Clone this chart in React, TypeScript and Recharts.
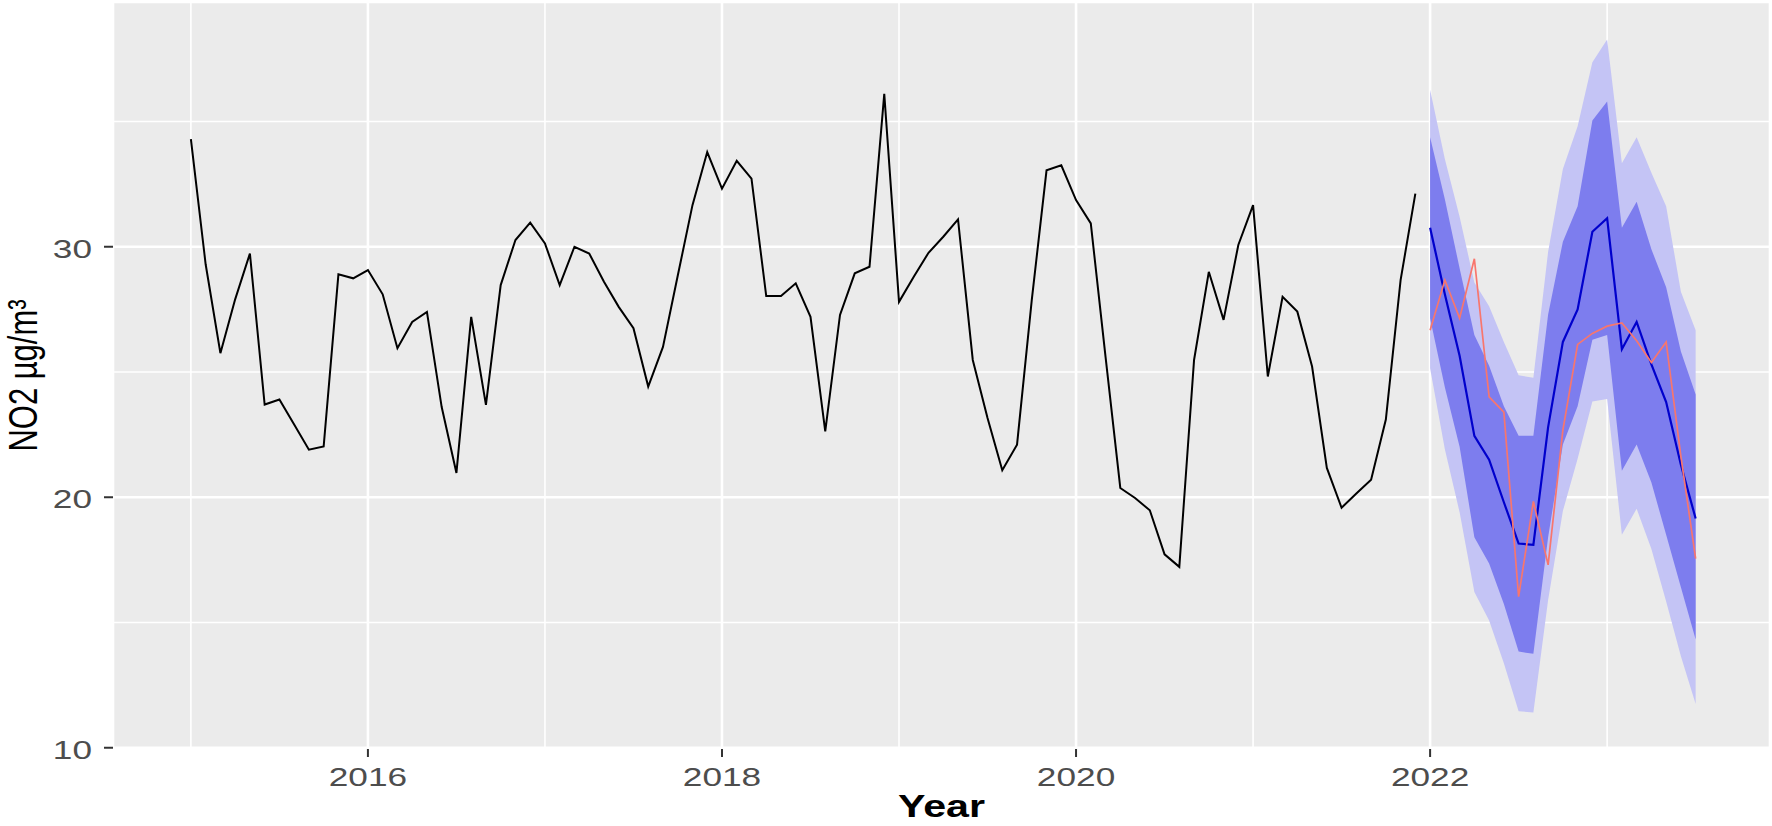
import React from 'react';
import {
  ComposedChart,
  Line,
  Area,
  XAxis,
  YAxis,
  CartesianGrid,
  Label,
} from 'recharts';

// monthly NO2, Jan 2015 - Dec 2021
const histStart = 2015;
const histValues = [
  34.3, 29.3, 25.75, 27.9, 29.73, 23.7, 23.9, 22.9, 21.9, 22.03, 28.9, 28.74,
  29.07, 28.1, 25.95, 27.0, 27.4, 23.6, 20.97, 27.2, 23.69, 28.47, 30.27, 30.96,
  30.13, 28.47, 30.0, 29.73, 28.6, 27.6, 26.75, 24.42, 26.0, 28.84, 31.66, 33.78,
  32.32, 33.43, 32.72, 28.03, 28.03, 28.54, 27.2, 22.63, 27.28, 28.94, 29.2, 36.1,
  27.8, 28.8, 29.76, 30.4, 31.09, 25.48, 23.16, 21.08, 22.1, 27.88, 33.05, 33.25,
  31.86, 30.93, 25.6, 20.37, 19.97, 19.48, 17.72, 17.22, 25.48, 29.0, 27.08, 30.07,
  31.66, 24.82, 28.0, 27.41, 25.22, 21.17, 19.58, 20.15, 20.7, 23.1, 28.67, 32.12,
];

// forecast, Jan 2022 - Jul 2023
const fcStart = 2022;
const fcMean = [30.76, 28.1, 25.65, 22.45, 21.5, 19.8, 18.15, 18.1, 22.8, 26.2, 27.5, 30.6, 31.14, 25.91, 27.0, 25.3, 23.8, 21.3, 19.15];
const fcHi80 = [34.37, 31.9, 29.14, 26.48, 25.25, 23.63, 22.45, 22.45, 27.3, 30.2, 31.62, 35.04, 35.8, 30.76, 31.8, 29.9, 28.38, 25.82, 24.1];
const fcLo80 = [27.15, 24.39, 22.02, 18.4, 17.36, 15.74, 13.84, 13.75, 18.4, 22.11, 23.63, 26.29, 26.48, 21.06, 22.11, 20.59, 18.5, 16.41, 14.32];
const fcHi95 = [36.27, 33.5, 31.2, 28.57, 27.62, 26.2, 24.87, 24.77, 29.8, 33.1, 34.81, 37.36, 38.27, 33.33, 34.37, 32.95, 31.62, 28.2, 26.67];
const fcLo95 = [25.15, 21.92, 19.4, 16.22, 15.08, 13.37, 11.46, 11.41, 15.9, 19.45, 21.54, 23.82, 23.92, 18.5, 19.54, 17.93, 15.84, 13.65, 11.75];
const actual = [26.67, 28.67, 27.15, 29.52, 24.01, 23.4, 16.03, 19.83, 17.3, 22.68, 26.1, 26.54, 26.83, 26.96, 26.25, 25.38, 26.2, 21.63, 17.55];

const xTicks = [2016, 2018, 2020, 2022];
const xMinor = [2015, 2017, 2019, 2021, 2023];
const yTicks = [10, 20, 30];
const yMinor = [15, 25, 35];

const histData = histValues.map((v, i) => ({ t: histStart + i / 12, no2: v }));
const fcData = fcMean.map((v, i) => ({
  t: fcStart + i / 12,
  mean: v,
  band80: [fcLo80[i], fcHi80[i]],
  band95: [fcLo95[i], fcHi95[i]],
  actual: actual[i],
}));

const FONT = '"Liberation Sans", Arial, sans-serif';
const STRETCH = 1.33;

const XTick = (props: any) => {
  const { x, y, payload } = props;
  return (
    <text
      transform={`translate(${x},${y}) scale(${STRETCH},1)`}
      textAnchor="middle"
      dy="0.71em"
      fontSize={26.5}
      fontFamily={FONT}
      fill="#4D4D4D"
    >
      {payload.value}
    </text>
  );
};

const YTick = (props: any) => {
  const { x, y, payload } = props;
  return (
    <text
      transform={`translate(${x},${y}) scale(${STRETCH},1)`}
      textAnchor="end"
      dy="0.42em"
      fontSize={26.5}
      fontFamily={FONT}
      fill="#4D4D4D"
    >
      {payload.value}
    </text>
  );
};

const XTitle = (props: any) => {
  const vb = props.viewBox;
  return (
    <text
      transform={`translate(${vb.x + vb.width / 2},${vb.y + 68}) scale(${STRETCH},1)`}
      textAnchor="middle"
      fontSize={31}
      fontWeight="bold"
      fontFamily={FONT}
      fill="#000"
    >
      Year
    </text>
  );
};

const YTitle = (props: any) => {
  const vb = props.viewBox;
  return (
    <text
      transform={`translate(${vb.x + 37},${vb.y + vb.height / 2}) scale(${STRETCH},1) rotate(-90)`}
      textAnchor="middle"
      fontSize={31}
      fontFamily={FONT}
      fill="#000"
    >
      NO2 µg/m³
    </text>
  );
};

export default function App() {
  return (
    <div style={{ position: 'absolute', left: 0, top: 0, background: '#fff' }}>
      <ComposedChart width={1772} height={826} margin={{ top: 2, right: 2, bottom: 0, left: 0 }}>
        <CartesianGrid
          fill="#EBEBEB"
          fillOpacity={1}
          stroke="#FFFFFF"
          strokeWidth={1.6}
          horizontalValues={yMinor}
          verticalValues={xMinor}
        />
        <CartesianGrid stroke="#FFFFFF" strokeWidth={2.6} />
        <XAxis
          dataKey="t"
          type="number"
          domain={[2014.56, 2023.92]}
          allowDataOverflow
          ticks={xTicks}
          interval={0}
          height={77}
          axisLine={false}
          tickSize={8}
          tickMargin={10}
          tickLine={{ stroke: '#333333', strokeWidth: 2 }}
          tick={XTick}
        >
          <Label content={XTitle} />
        </XAxis>
        <YAxis
          type="number"
          domain={[9.95, 39.77]}
          allowDataOverflow
          ticks={yTicks}
          interval={0}
          width={113}
          axisLine={false}
          tickSize={9}
          tickMargin={12}
          tickLine={{ stroke: '#333333', strokeWidth: 2 }}
          tick={YTick}
        >
          <Label content={YTitle} />
        </YAxis>
        <Area
          data={fcData}
          dataKey="band95"
          type="linear"
          stroke="none"
          fill="#C4C4F5"
          fillOpacity={1}
          isAnimationActive={false}
        />
        <Area
          data={fcData}
          dataKey="band80"
          type="linear"
          stroke="none"
          fill="#7D7DEE"
          fillOpacity={1}
          isAnimationActive={false}
        />
        <Line
          data={histData}
          dataKey="no2"
          type="linear"
          stroke="#000000"
          strokeWidth={2}
          dot={false}
          activeDot={false}
          isAnimationActive={false}
        />
        <Line
          data={fcData}
          dataKey="mean"
          type="linear"
          stroke="#0000CC"
          strokeWidth={2.2}
          dot={false}
          activeDot={false}
          isAnimationActive={false}
        />
        <Line
          data={fcData}
          dataKey="actual"
          type="linear"
          stroke="#F8766D"
          strokeWidth={1.7}
          dot={false}
          activeDot={false}
          isAnimationActive={false}
        />
      </ComposedChart>
    </div>
  );
}
